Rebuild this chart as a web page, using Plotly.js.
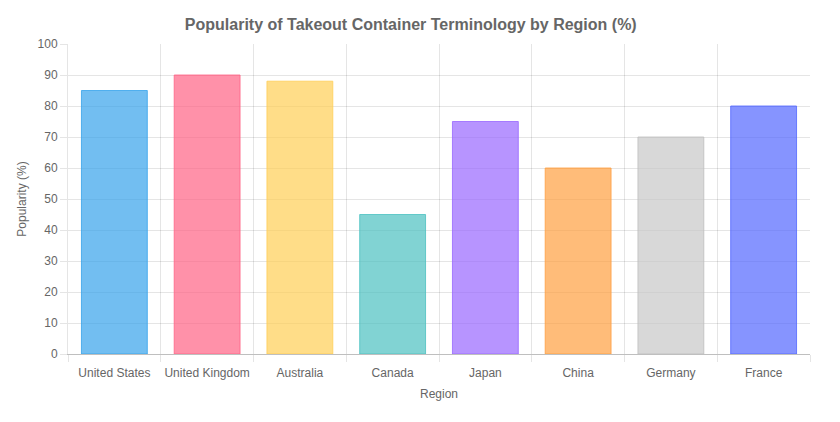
<html>
<head>
<script src="https://cdn.plot.ly/plotly-3.0.1.min.js"></script>
<style>body{margin:0;background:#fff;}</style>
</head>
<body>
<div id="chart" style="width:840px;height:422px;"></div>
<script>
// Chart data
var regions = ["United States", "United Kingdom", "Australia", "Canada", "Japan", "China", "Germany", "France"];
var popularity = [85, 90, 88, 45, 75, 60, 70, 80];
var fillColors = ["rgba(54,162,235,0.7)", "rgba(255,99,132,0.7)", "rgba(255,206,86,0.7)", "rgba(75,192,192,0.7)",
                  "rgba(153,102,255,0.7)", "rgba(255,159,64,0.7)", "rgba(199,199,199,0.7)", "rgba(83,102,255,0.7)"];
var lineColors = ["rgba(54,162,235,0.8)", "rgba(255,99,132,0.8)", "rgba(255,206,86,0.8)", "rgba(75,192,192,0.8)",
                  "rgba(153,102,255,0.8)", "rgba(255,159,64,0.8)", "rgba(190,190,190,0.8)", "rgba(83,102,255,0.8)"];

var bars = {
  type: 'bar', x: regions, y: popularity,
  marker: {color: fillColors, line: {color: lineColors, width: 1}},
  hoverinfo: 'x+y'
};

var font = '"Liberation Sans", Arial, Helvetica, sans-serif';
var layout = {
  width: 840, height: 422,
  margin: {l: 68, r: 30, t: 44, b: 68},
  paper_bgcolor: '#fff', plot_bgcolor: '#fff',
  font: {family: font, size: 12, color: '#666'},
  showlegend: false,
  bargap: 0.29,
  title: {text: '<b>Popularity of Takeout Container Terminology by Region (%)</b>',
          font: {size: 16, color: '#666', family: font}, xref: 'container', x: 0.489, xanchor: 'center',
          y: 0.943, yanchor: 'middle'},
  xaxis: {
    type: 'category', tickson: 'boundaries', tickangle: 0, automargin: false,
    showgrid: true, gridcolor: 'rgba(0,0,0,0.1)', gridwidth: 1,
    ticks: 'outside', ticklen: 7, tickcolor: 'rgba(0,0,0,0.1)', ticklabelstandoff: 8,
    showline: true, linecolor: 'rgba(0,0,0,0.25)', linewidth: 1,
    tickfont: {size: 12, color: '#666'},
    title: {text: 'Region', font: {size: 12, color: '#666'}, standoff: 10},
    fixedrange: true
  },
  yaxis: {
    range: [0, 100], dtick: 10, tick0: 0, automargin: false,
    showgrid: true, gridcolor: 'rgba(0,0,0,0.1)', gridwidth: 1,
    ticks: 'outside', ticklen: 7, tickcolor: 'rgba(0,0,0,0.1)',
    showline: true, linecolor: 'rgba(0,0,0,0.1)', linewidth: 1,
    zeroline: false,
    tickfont: {size: 12, color: '#666'},
    title: {text: 'Popularity (%)', font: {size: 12, color: '#666'}, standoff: 8},
    fixedrange: true
  }
};

Plotly.newPlot('chart', [bars], layout, {displayModeBar: false, responsive: false});
</script>
</body>
</html>
